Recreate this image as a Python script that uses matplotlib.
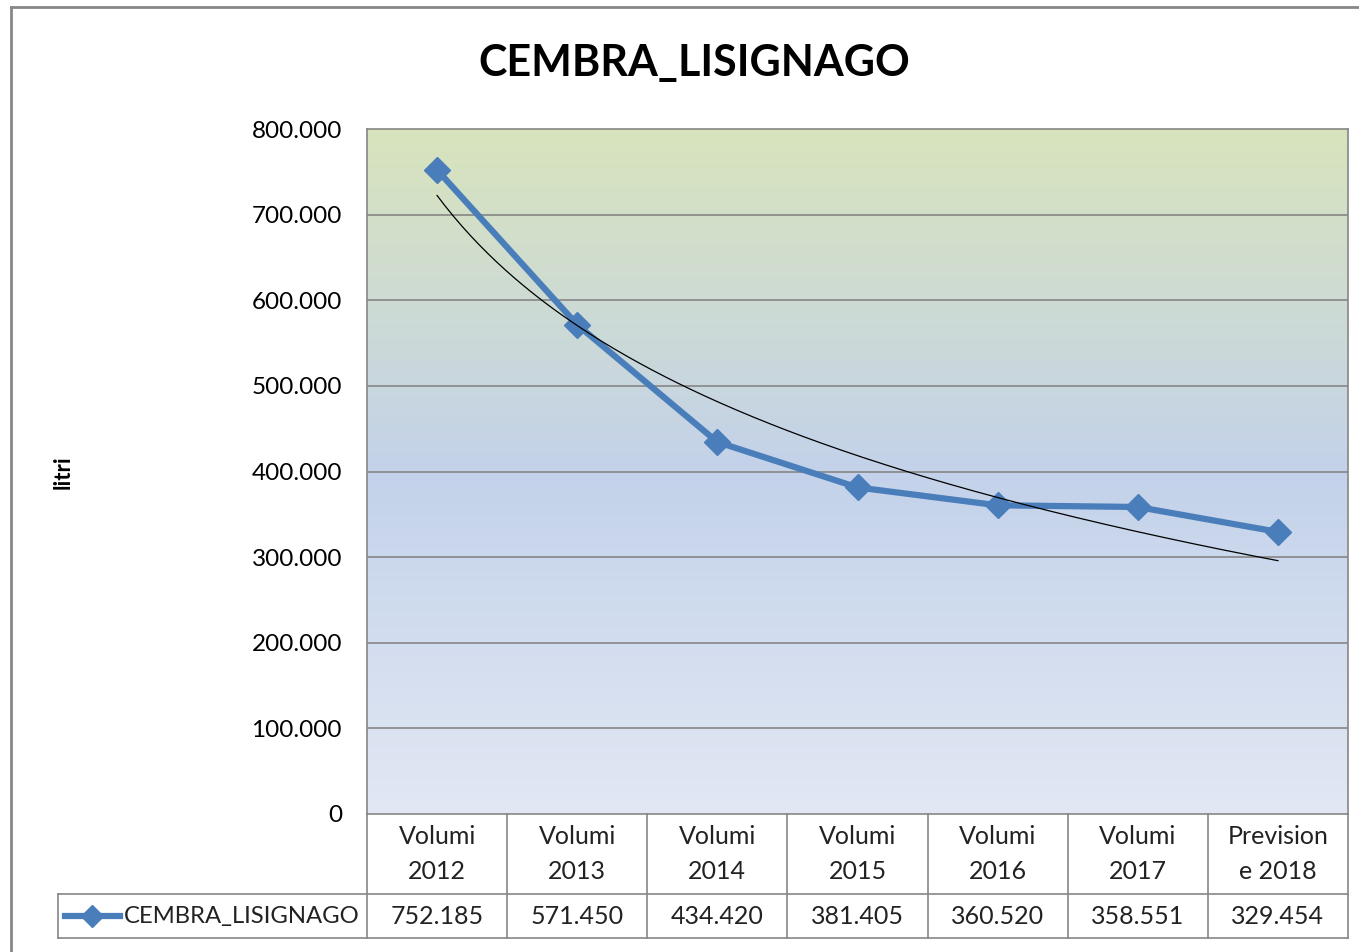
import numpy as np
import matplotlib
matplotlib.use("Agg")
import matplotlib.pyplot as plt
from matplotlib.colors import LinearSegmentedColormap

# data
header_labels = ["Volumi\n2012", "Volumi\n2013", "Volumi\n2014", "Volumi\n2015",
                 "Volumi\n2016", "Volumi\n2017", "Prevision\ne 2018"]
series_name = "CEMBRA_LISIGNAGO"
volumes = [752185, 571450, 434420, 381405, 360520, 358551, 329454]
y_ticks = [0, 100000, 200000, 300000, 400000, 500000, 600000, 700000, 800000]


def fmt_it(v):
    # Italian thousands separator
    return "{:,}".format(int(v)).replace(",", ".")


plt.rcParams['font.family'] = ['Lato', 'DejaVu Sans']

fig = plt.figure(figsize=(13.59, 9.52), dpi=100, facecolor='white')
ax = fig.add_axes([367 / 1359, 1 - 814 / 952, 981 / 1359, 685 / 952])

x = np.arange(1, len(volumes) + 1)
ax.set_xlim(0.5, len(volumes) + 0.5)
ax.set_ylim(0, 800000)

# gradient background of the plot area
grad = LinearSegmentedColormap.from_list(
    "bg", [(0.0, "#e2e8f4"), (0.5, "#c3d2ea"), (1.0, "#d8e4bc")])
ax.imshow(np.linspace(0, 1, 256).reshape(-1, 1), cmap=grad, aspect='auto',
          extent=[0.5, len(volumes) + 0.5, 0, 800000], origin='lower', zorder=0)

for t in y_ticks[1:-1]:
    ax.axhline(t, color='#868686', lw=1.2, zorder=1)

# series
ax.plot(x, volumes, color='#4a7ebb', lw=4.5, marker='D', markersize=13,
        zorder=3, solid_joinstyle='round')

# logarithmic trendline fitted on the data
b, a = np.polyfit(np.log(x), volumes, 1)
xt = np.linspace(1, len(volumes), 200)
ax.plot(xt, a + b * np.log(xt), color='black', lw=0.9, zorder=4)

ax.set_yticks(y_ticks)
ax.set_yticklabels([fmt_it(t) for t in y_ticks], fontsize=17.5)
ax.tick_params(axis='y', length=0, pad=18)
ax.set_xticks([])
for s in ax.spines.values():
    s.set_color('#868686')
    s.set_linewidth(1.2)

# data table under the plot
tc = '#868686'
tr = ax.transAxes
h1 = -80 / 685
h2 = -124 / 685
xl = -309 / 981
ax.plot([0, 0], [0, h2], color=tc, lw=1.2, transform=tr, clip_on=False)
ax.plot([1, 1], [0, h2], color=tc, lw=1.2, transform=tr, clip_on=False)
ax.plot([xl, 1], [h1, h1], color=tc, lw=1.2, transform=tr, clip_on=False)
ax.plot([xl, 1], [h2, h2], color=tc, lw=1.2, transform=tr, clip_on=False)
ax.plot([xl, xl], [h1, h2], color=tc, lw=1.2, transform=tr, clip_on=False)
for i in range(1, len(volumes)):
    xf = i / len(volumes)
    ax.plot([xf, xf], [0, h2], color=tc, lw=1.2, transform=tr, clip_on=False)

for i, (lab, v) in enumerate(zip(header_labels, volumes)):
    xc = (i + 0.5) / len(volumes)
    ax.text(xc, h1 / 2, lab, transform=tr, ha='center', va='center',
            fontsize=18, linespacing=1.6, color='#222222')
    ax.text(xc, (h1 + h2) / 2, fmt_it(v), transform=tr, ha='center',
            va='center', fontsize=18, color='#222222')

# legend key inside the table
kx0, kx1 = -302 / 981, -247 / 981
ky = (h1 + h2) / 2
ax.plot([kx0, kx1], [ky, ky], color='#4a7ebb', lw=4.5, transform=tr,
        clip_on=False)
ax.plot([(kx0 + kx1) / 2], [ky], color='#4a7ebb', marker='D', markersize=11,
        transform=tr, clip_on=False)
ax.text(-243 / 981, ky, series_name, transform=tr, ha='left', va='center',
        fontsize=17.2, color='#222222')

# title and axis label
fig.text(694 / 1359, 1 - 63 / 952, series_name, ha='center', va='center',
         fontsize=31, fontweight='bold')
fig.text(63 / 1359, 1 - 472 / 952, "litri", ha='center', va='center',
         rotation=90, fontsize=16, fontweight='bold')

# outer chart frame (partly cropped)
fig.add_artist(plt.Line2D([11 / 1359, 1], [1 - 7 / 952, 1 - 7 / 952],
                          transform=fig.transFigure, color='#878787', lw=2))
fig.add_artist(plt.Line2D([11 / 1359, 11 / 1359], [0, 1 - 7 / 952],
                          transform=fig.transFigure, color='#878787', lw=2))

fig.savefig("out.png", dpi=100, facecolor='white')
